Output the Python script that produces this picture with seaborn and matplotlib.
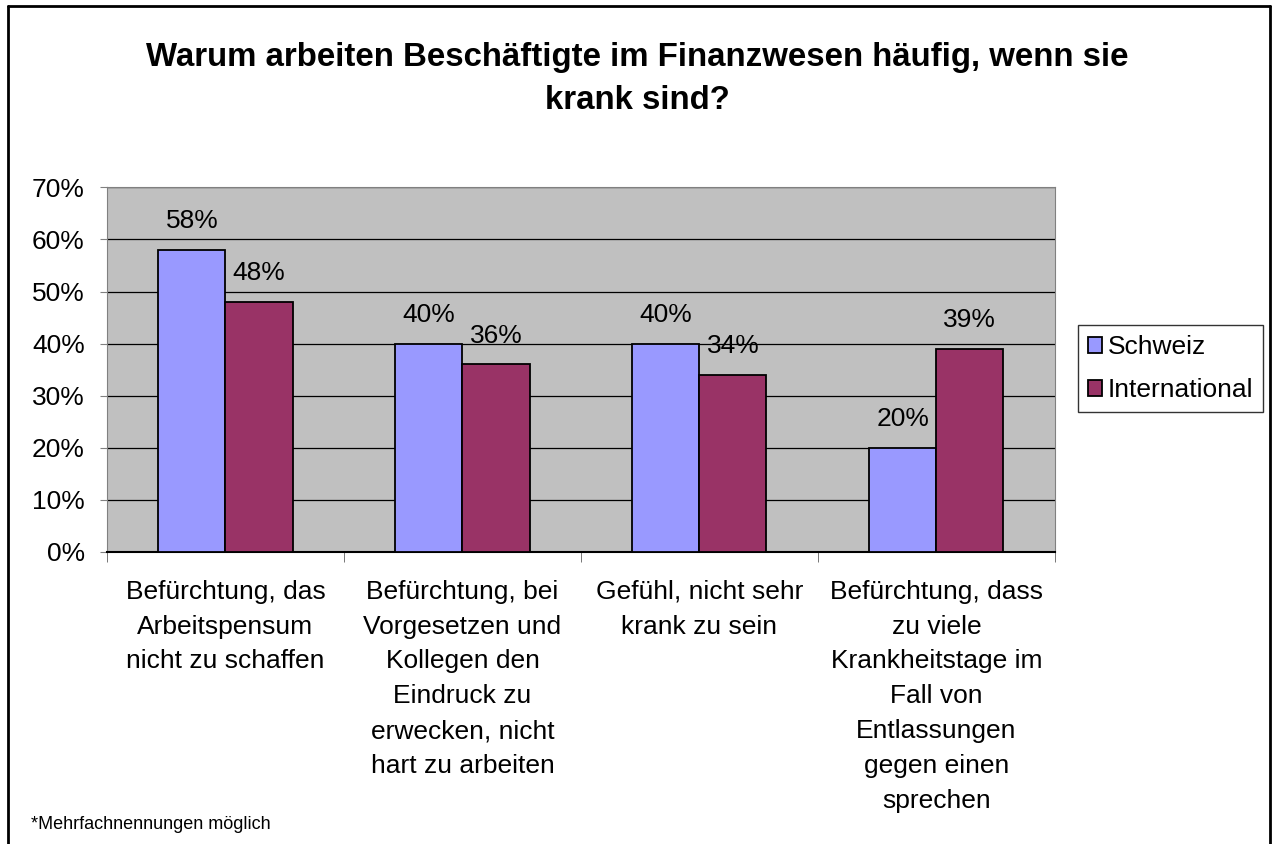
import pandas as pd
import numpy as np
import matplotlib.pyplot as plt
import seaborn as sns
from matplotlib.lines import Line2D
from matplotlib.ticker import MultipleLocator, PercentFormatter

# ----------------------------
# DATA
# ----------------------------

categories = [
    "Befürchtung, das\nArbeitspensum\nnicht zu schaffen",
    "Befürchtung, bei\nVorgesetzen und\nKollegen den\nEindruck zu\nerwecken, nicht\nhart zu arbeiten",
    "Gefühl, nicht sehr\nkrank zu sein",
    "Befürchtung, dass\nzu viele\nKrankheitstage im\nFall von\nEntlassungen\ngegen einen\nsprechen",
]
schweiz = [58, 40, 40, 20]
international = [48, 36, 34, 39]
series_names = ["Schweiz", "International"]
colors = ["#9999FF", "#993366"]

title = "Warum arbeiten Beschäftigte im Finanzwesen häufig, wenn sie\nkrank sind?"
footnote = "*Mehrfachnennungen möglich"

df = pd.DataFrame({
    "category": categories * 2,
    "value": schweiz + international,
    "series": [series_names[0]] * 4 + [series_names[1]] * 4,
})

# ----------------------------
# PLOT
# ----------------------------

sns.set_style("white")
plt.rcParams['font.family'] = ['Liberation Sans', 'DejaVu Sans']
plt.rcParams['text.color'] = 'black'
plt.rcParams['xtick.color'] = 'black'
plt.rcParams['ytick.color'] = 'black'
plt.rcParams['axes.labelcolor'] = 'black'

fig = plt.figure(figsize=(12.74, 8.44), dpi=100)
ax = fig.add_axes([0.084, 0.346, 0.744, 0.432])

sns.barplot(
    data=df, x="category", y="value", hue="series",
    palette=colors, width=0.566, edgecolor="black", linewidth=1.3,
    saturation=1, ax=ax, legend=True, zorder=3,
)

ax.set_facecolor("#C0C0C0")
ax.set_ylim(0, 70)
ax.set_xlim(-0.5, 3.5)
ax.yaxis.set_major_locator(MultipleLocator(10))
ax.yaxis.set_major_formatter(PercentFormatter(decimals=0))
ax.grid(axis="y", color="black", linewidth=0.9, zorder=0)
ax.set_axisbelow(True)
ax.set_xlabel("")
ax.set_ylabel("")

for side in ["top", "right", "left"]:
    ax.spines[side].set_color("#808080")
ax.spines["bottom"].set_color("black")
ax.spines["bottom"].set_linewidth(1.5)

ax.tick_params(axis="y", labelsize=19, length=5, color="#808080", direction="out",
               left=True, pad=11, labelcolor="black")
ax.tick_params(axis="x", labelsize=19, length=0, pad=20, labelcolor="black")
ax.set_xticks(range(len(categories)))
ax.set_xticklabels(categories, linespacing=1.57, va="top")
ax.set_xticks([-0.5, 0.5, 1.5, 2.5, 3.5], minor=True)
ax.tick_params(axis="x", which="minor", length=7, color="#606060", bottom=True)

# value labels
for container in ax.containers:
    ax.bar_label(container, labels=[f"{v:.0f}%" for v in container.datavalues],
                 fontsize=19, padding=12, color="black")

# legend
handles, labels = ax.get_legend_handles_labels()
ax.legend(
    handles, labels, loc="upper left", bbox_to_anchor=(0.846, 0.615),
    bbox_transform=fig.transFigure, fontsize=19, frameon=True,
    fancybox=False, edgecolor="black", handlelength=0.55, handleheight=0.55,
    handletextpad=0.2, borderpad=0.38, labelspacing=0.72, borderaxespad=0,
)
ax.get_legend().get_frame().set_linewidth(1.0)

fig.text(0.5, 0.906, title, ha="center", va="center", fontsize=23.8,
         fontweight="bold", linespacing=1.5)
fig.text(0.024, 0.023, footnote, ha="left", va="center", fontsize=13)

# chart border (left, top, right)
x0, x1, y1 = 8 / 1274, 1270 / 1274, 1 - 6 / 844
for xs, ys in [([x0, x0], [0, y1]), ([x0, x1], [y1, y1]), ([x1, x1], [y1, 0])]:
    fig.add_artist(Line2D(xs, ys, color="black", linewidth=2, transform=fig.transFigure))

plt.savefig("out.png", dpi=100)
